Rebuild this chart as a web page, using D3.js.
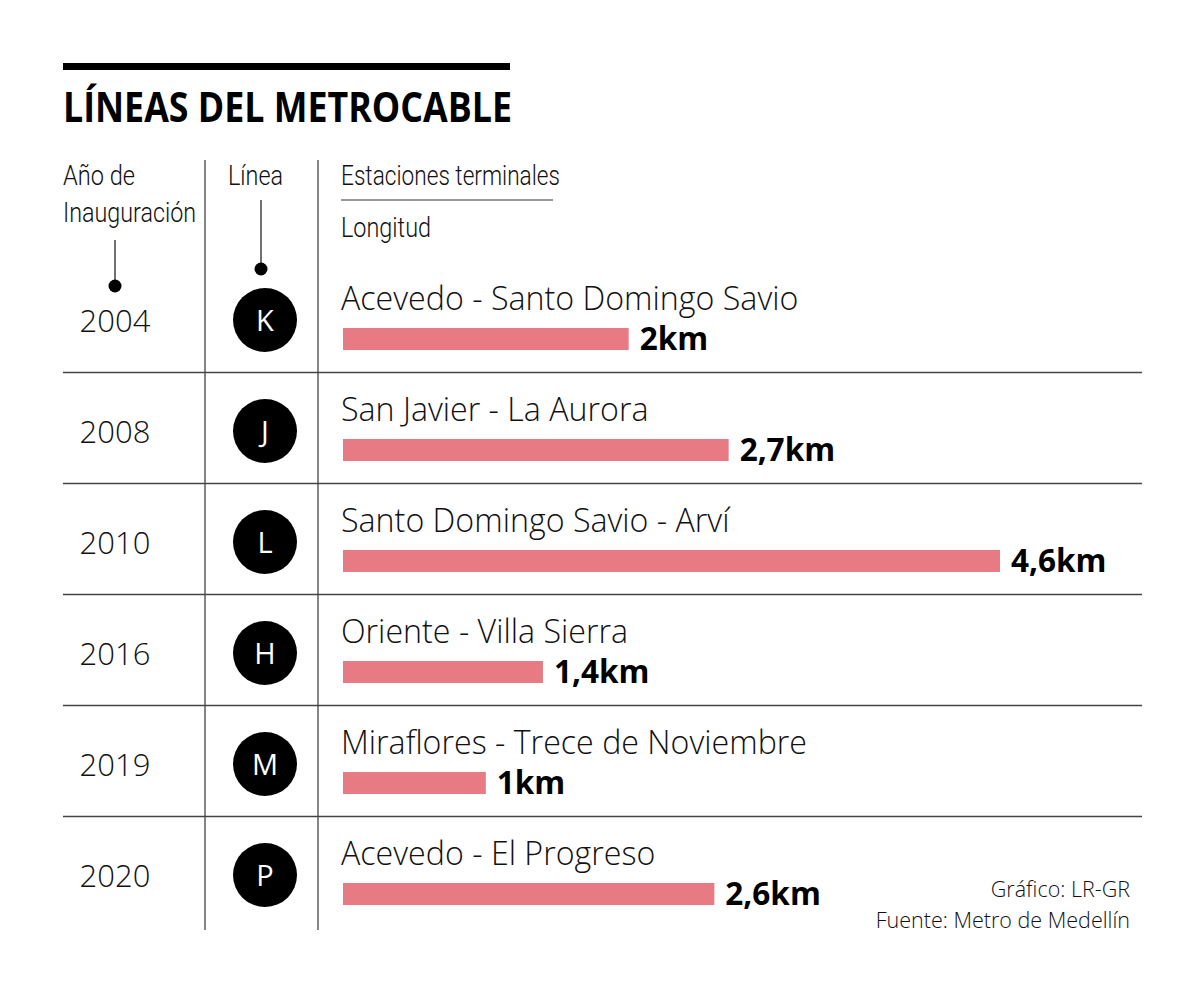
<!DOCTYPE html>
<html>
<head>
<meta charset="utf-8">
<script src="https://cdn.jsdelivr.net/npm/d3@7"></script>
<style>
body{margin:0;background:#fff;}
svg{display:block;}
</style>
</head>
<body>
<div id="plot"></div>
<script>
// datos
var years = ['2004','2008','2010','2016','2019','2020'];
var lines = ['K','J','L','H','M','P'];
var stations = ['Acevedo - Santo Domingo Savio','San Javier - La Aurora','Santo Domingo Savio - Arví','Oriente - Villa Sierra','Miraflores - Trece de Noviembre','Acevedo - El Progreso'];
var lengths = [2, 2.7, 4.6, 1.4, 1, 2.6];
var lengthLabels = ['2km','2,7km','4,6km','1,4km','1km','2,6km'];

var W = 1200, H = 995;
var light = "'Open Sans', 'Noto Sans', sans-serif";
var cond = "Roboto, 'DejaVu Sans Condensed', sans-serif";

var svg = d3.select('#plot').append('svg')
	.attr('width',W)
	.attr('height',H);

var data = years.map(function(y,i){
	return {year:y, line:lines[i], station:stations[i], km:lengths[i], label:lengthLabels[i]};
});

var scaleRow = d3.scaleBand().domain(years).range([262,928]);
var scaleKm = d3.scaleLinear().domain([0,4.6]).range([343,1000]);

// title
svg.append('rect').attr('x',63).attr('y',63).attr('width',447).attr('height',7).attr('fill','#000');
svg.append('text').attr('x',63).attr('y',122)
	.attr('font-family',"'Open Sans', sans-serif").attr('font-weight',700)
	.attr('font-size',42).attr('textLength',449).attr('lengthAdjust','spacingAndGlyphs')
	.text('LÍNEAS DEL METROCABLE');

// headers
function header(txt,x,y,len){
	svg.append('text').attr('x',x).attr('y',y)
		.attr('font-family',cond).attr('font-weight',300).attr('font-size',28).attr('fill','#111')
		.attr('textLength',len).attr('lengthAdjust','spacingAndGlyphs')
		.text(txt);
}
header('Año de',63,185,72);
header('Inauguración',63,222,133);
header('Línea',228,185,55);
header('Estaciones terminales',341,185,219);
header('Longitud',341,237,90);

svg.append('line').attr('x1',341).attr('x2',553).attr('y1',200).attr('y2',200).attr('stroke','#333').attr('stroke-width',1);

// pointers
svg.append('line').attr('x1',115).attr('x2',115).attr('y1',240).attr('y2',285).attr('stroke','#111').attr('stroke-width',1.2);
svg.append('circle').attr('cx',115).attr('cy',286).attr('r',6.5).attr('fill','#000');
svg.append('line').attr('x1',261).attr('x2',261).attr('y1',200).attr('y2',268).attr('stroke','#111').attr('stroke-width',1.2);
svg.append('circle').attr('cx',261).attr('cy',269).attr('r',6.5).attr('fill','#000');

// column lines
[205,318].forEach(function(x){
	svg.append('line').attr('x1',x).attr('x2',x).attr('y1',160).attr('y2',930).attr('stroke','#444').attr('stroke-width',1.3);
});

// row separators
svg.selectAll('.sep')
	.data(years.slice(1))
	.enter()
	.append('line')
	.attr('class','sep')
	.attr('x1',63).attr('x2',1142)
	.attr('y1',function(d){return scaleRow(d)-0.5})
	.attr('y2',function(d){return scaleRow(d)-0.5})
	.attr('stroke','#444').attr('stroke-width',1.3);

var rows = svg.selectAll('.row')
	.data(data)
	.enter()
	.append('g')
	.attr('class','row')
	.attr('transform',function(d){return 'translate(0,'+(scaleRow(d.year)+58)+')'});

rows.append('text')
	.attr('x',115).attr('y',12)
	.attr('text-anchor','middle')
	.attr('font-family',light).attr('font-weight',300).attr('font-size',31)
	.attr('fill','#111')
	.text(function(d){return d.year});

rows.append('circle')
	.attr('cx',265).attr('cy',0).attr('r',32).attr('fill','#000');

rows.append('text')
	.attr('x',265).attr('y',11)
	.attr('text-anchor','middle')
	.attr('font-family',light).attr('font-size',29).attr('fill','#fff')
	.text(function(d){return d.line});

rows.append('text')
	.attr('x',341).attr('y',-10)
	.attr('font-family',light).attr('font-weight',300).attr('font-size',32.2)
	.attr('fill','#111')
	.text(function(d){return d.station});

rows.append('rect')
	.attr('x',scaleKm(0))
	.attr('y',8)
	.attr('height',22)
	.attr('width',function(d){return scaleKm(d.km)-scaleKm(0)})
	.attr('fill','rgb(231,122,130)');

rows.append('text')
	.attr('x',function(d){return scaleKm(d.km)+11})
	.attr('y',30)
	.attr('font-family',"'Open Sans', sans-serif").attr('font-weight',700).attr('font-size',31.5)
	.attr('fill','#000')
	.text(function(d){return d.label});

// footer
svg.append('text').attr('x',1130).attr('y',897).attr('text-anchor','end')
	.attr('font-family',light).attr('font-weight',300).attr('font-size',21.5).attr('fill','#111')
	.text('Gráfico: LR-GR');
svg.append('text').attr('x',1130).attr('y',928).attr('text-anchor','end')
	.attr('font-family',light).attr('font-weight',300).attr('font-size',21.5).attr('fill','#111')
	.text('Fuente: Metro de Medellín');
</script>
</body>
</html>
